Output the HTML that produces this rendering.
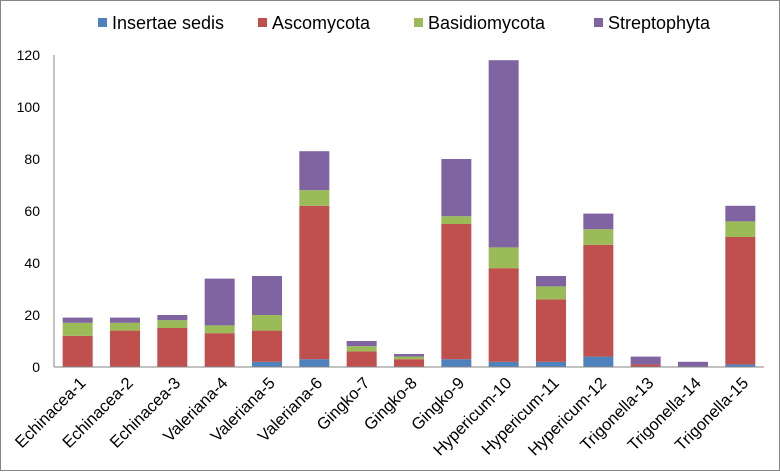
<!DOCTYPE html>
<html><head><meta charset="utf-8"><style>
body{margin:0;background:#fff;font-family:"Liberation Sans",Arial,sans-serif}
svg text{font-family:"Liberation Sans",Arial,sans-serif;fill:#000}
</style></head><body>
<svg id="c" width="780" height="471" viewBox="0 0 780 471"></svg>
<script>
const categories=["Echinacea-1","Echinacea-2","Echinacea-3","Valeriana-4","Valeriana-5","Valeriana-6","Gingko-7","Gingko-8","Gingko-9","Hypericum-10","Hypericum-11","Hypericum-12","Trigonella-13","Trigonella-14","Trigonella-15"];
const insertaeSedis=[0,0,0,0,2,3,0,0,3,2,2,4,0,0,1];
const ascomycota=[12,14,15,13,12,59,6,3,52,36,24,43,1,0,49];
const basidiomycota=[5,3,3,3,6,6,2,1,3,8,5,6,0,0,6];
const streptophyta=[2,2,2,18,15,15,2,1,22,72,4,6,3,2,6];
const yTicks=[0,20,40,60,80,100,120];
const seriesNames=["Insertae sedis","Ascomycota","Basidiomycota","Streptophyta"];
const colors=["#4f81bd","#c0504d","#9bbb59","#8064a2"];
const series=[insertaeSedis,ascomycota,basidiomycota,streptophyta];
const svg=document.getElementById('c');const NS="http://www.w3.org/2000/svg";
const x0=54,x1=764,y0=367,yTop=55,yMax=120;
const y=v=>y0-(v/yMax)*(y0-yTop);
const step=(x1-x0)/categories.length,bw=30;
const xc=i=>x0+step*(i+0.5);
function mk(t,a){const e=document.createElementNS(NS,t);for(const k in a)e.setAttribute(k,a[k]);svg.appendChild(e);return e;}
const fr=mk('rect',{x:0.5,y:0.5,width:779,height:470,fill:'none',stroke:'#868686','stroke-width':1});


yTicks.forEach(t=>{const e=mk('text',{x:40,y:y(t)+5,'text-anchor':'end','font-size':14});e.textContent=t;

});
categories.forEach((c,i)=>{let acc=0;series.forEach((s,k)=>{const v=s[i];if(v>0){const r=mk('rect',{x:xc(i)-bw/2,y:y(acc+v),width:bw,height:y(acc)-y(acc+v),fill:colors[k]});

}acc+=v;});
const lx=xc(i)+9,ly=y0+17;
const t=mk('text',{x:lx,y:ly,'text-anchor':'end','font-size':16.5,transform:`rotate(-45 ${lx} ${ly})`});t.textContent=c;

});
const ax=mk('line',{x1:x0,y1:y0,x2:x1,y2:y0,stroke:'#868686','stroke-width':1});


const ay=mk('line',{x1:x0,y1:yTop,x2:x0,y2:y0,stroke:'#868686','stroke-width':1});


const lx=[98,258,414,594];
seriesNames.forEach((n,k)=>{const r=mk('rect',{x:lx[k],y:18,width:9,height:9,fill:colors[k]});


const t=mk('text',{x:lx[k]+14,y:29,'font-size':18});t.textContent=n;

});
</script>
</body></html>
